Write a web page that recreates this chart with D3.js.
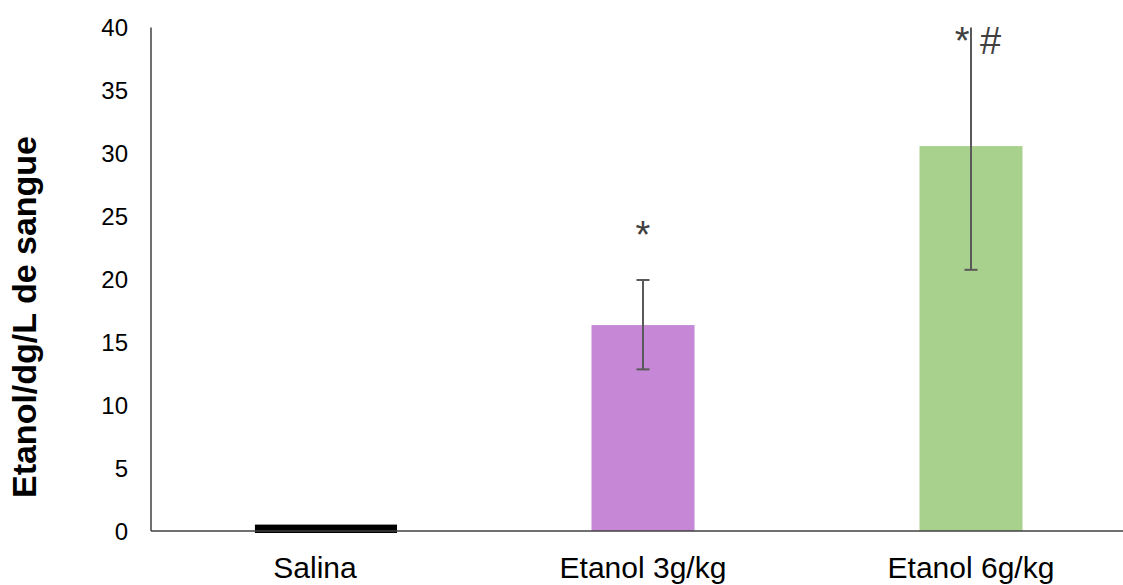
<!DOCTYPE html>
<html>
<head>
<meta charset="utf-8">
<script src="https://cdn.jsdelivr.net/npm/d3@7"></script>
<style>
  body { margin: 0; background: #fff; }
  text { font-family: "Liberation Sans", Arial, sans-serif; }
</style>
</head>
<body>
<svg id="chart"></svg>
<script>
// Chart data
var categories = ["Salina", "Etanol 3g/kg", "Etanol 6g/kg"];
var means      = [0.35, 16.36, 30.58];
var errLow     = [null, 12.84, 20.75];
var errHigh    = [null, 19.94, 40.41];
var sigText    = ["", "*", "* #"];
var sigLevel   = [null, 22.45, 37.9];
var barColors  = ["#000000", "#c587d6", "#a9d18e"];
var yTicks     = [0, 5, 10, 15, 20, 25, 30, 35, 40];

// Size params
var W = 1123, H = 585;
var margin = {top: 27.5, left: 151, bottom: 54};

var svg = d3.select("#chart")
    .attr("width", W)
    .attr("height", H);

// d3 scales
var x = d3.scaleBand()
    .domain(categories)
    .range([margin.left, margin.left + 984])
    .paddingInner(0.686)
    .paddingOuter(0.343);

var y = d3.scaleLinear()
    .domain([0, 40])
    .range([H - margin.bottom, margin.top]);

// clip for error bars going past the axis top
svg.append("clipPath").attr("id", "plot")
  .append("rect")
    .attr("x", margin.left)
    .attr("y", y(40))
    .attr("width", W - margin.left)
    .attr("height", y(0) - y(40));

// Bars
svg.selectAll(".bar")
    .data(means)
  .enter().append("rect")
    .attr("class", "bar")
    .attr("x", function(d, i) { return i === 0 ? x(categories[i]) - x.step() * 0.02 : x(categories[i]); })
    .attr("width", function(d, i) { return i === 0 ? x.bandwidth() + x.step() * 0.107 : x.bandwidth(); })
    .attr("y", function(d) { return y(d); })
    .attr("height", function(d) { return y(0) - y(d); })
    .style("fill", function(d, i) { return barColors[i]; })
    .style("stroke", function(d, i) { return i === 0 ? "#000" : "none"; })
    .style("stroke-width", 4);

// Y axis (no tick marks)
svg.append("line")
    .attr("x1", margin.left).attr("x2", margin.left)
    .attr("y1", y(40)).attr("y2", y(0))
    .style("stroke", "#404040")
    .style("stroke-width", 1.5);

svg.selectAll(".ytick")
    .data(yTicks)
  .enter().append("text")
    .attr("class", "ytick")
    .attr("x", margin.left - 23)
    .attr("y", function(d) { return y(d); })
    .attr("dy", ".36em")
    .attr("text-anchor", "end")
    .style("font-size", "24px")
    .style("fill", "#000")
    .text(function(d) { return d; });

// X axis
svg.append("line")
    .attr("x1", margin.left).attr("x2", W)
    .attr("y1", y(0)).attr("y2", y(0))
    .style("stroke", "#404040")
    .style("stroke-width", 1.5);

svg.selectAll(".xlabel")
    .data(categories)
  .enter().append("text")
    .attr("class", "xlabel")
    .attr("x", function(d) { return x(d) + x.bandwidth() / 2; })
    .attr("y", y(0) + 47)
    .attr("text-anchor", "middle")
    .style("font-size", "30px")
    .style("fill", "#000")
    .text(function(d) { return d; });

// Error bars
var eb = svg.append("g").attr("clip-path", "url(#plot)");
means.forEach(function(m, i) {
  if (errLow[i] == null) return;
  var cx = x(categories[i]) + x.bandwidth() / 2;
  eb.append("line")
      .attr("x1", cx).attr("x2", cx)
      .attr("y1", y(errLow[i])).attr("y2", y(errHigh[i]))
      .style("stroke", "#595959").style("stroke-width", 2);
  [errLow[i], errHigh[i]].forEach(function(v) {
    eb.append("line")
        .attr("x1", cx - 6.5).attr("x2", cx + 6.5)
        .attr("y1", y(v)).attr("y2", y(v))
        .style("stroke", "#595959").style("stroke-width", 2);
  });
});

// Significance marks
svg.selectAll(".sig")
    .data(sigText)
  .enter().append("text")
    .attr("class", "sig")
    .attr("x", function(d, i) { return x(categories[i]) + x.bandwidth() / 2 + (d.length > 1 ? 7 : 0); })
    .attr("y", function(d, i) { return sigLevel[i] == null ? 0 : y(sigLevel[i]); })
    .attr("text-anchor", "middle")
    .style("font-size", "38px")
    .style("fill", "#404040")
    .style("white-space", "pre")
    .text(function(d) { return d; });

// Y axis title
svg.append("text")
    .attr("transform", "translate(36,317)rotate(-90)")
    .attr("text-anchor", "middle")
    .style("font-size", "34px")
    .style("font-weight", "bold")
    .style("fill", "#000")
    .text("Etanol/dg/L de sangue");
</script>
</body>
</html>
